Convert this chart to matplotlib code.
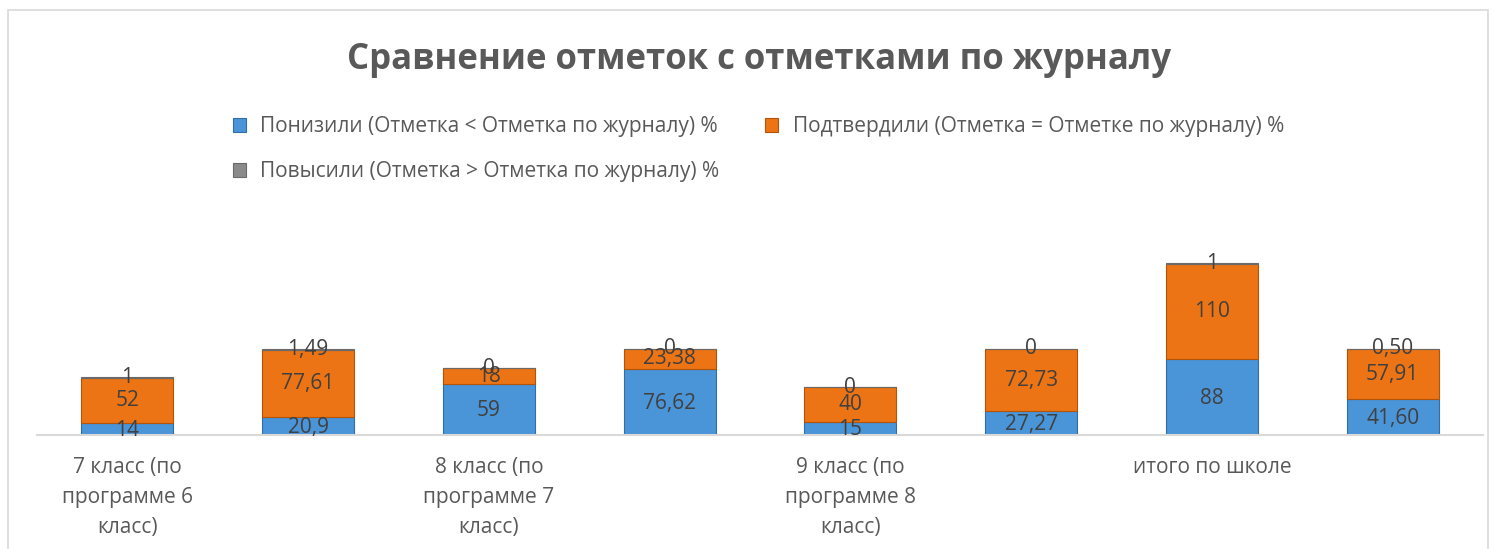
import numpy as np
import matplotlib.pyplot as plt
from matplotlib.patches import Rectangle

plt.rcParams['font.family'] = ['Open Sans', 'DejaVu Sans']

# данные
categories = ['7 класс (по\nпрограмме 6\nкласс)', '', '8 класс (по\nпрограмме 7\nкласс)', '',
              '9 класс (по\nпрограмме 8\nкласс)', '', 'итого по школе', '']
ponizili = [14, 20.9, 59, 76.62, 15, 27.27, 88, 41.60]
podtverdili = [52, 77.61, 18, 23.38, 40, 72.73, 110, 57.91]
povysili = [1, 1.49, 0, 0, 0, 0, 1, 0.50]
lbl_pon = ['14', '20,9', '59', '76,62', '15', '27,27', '88', '41,60']
lbl_pod = ['52', '77,61', '18', '23,38', '40', '72,73', '110', '57,91']
lbl_pov = ['1', '1,49', '0', '0', '0', '0', '1', '0,50']
series_names = ['Понизили (Отметка < Отметка по журналу) %',
                'Подтвердили (Отметка = Отметке по журналу) %',
                'Повысили (Отметка > Отметка по журналу) %']

blue = '#4a94d8'
orange = '#ec7414'
grey = '#8a8a8a'
txt = '#595959'

fig = plt.figure(figsize=(14.95, 5.49), dpi=100)
fig.patches.append(Rectangle((8 / 1495, -0.1), 1480 / 1495, 1 - 10 / 549 + 0.1,
                             transform=fig.transFigure, fill=False,
                             edgecolor='#d9d9d9', lw=1.2))

ax = fig.add_axes([37 / 1495, 1 - 435 / 549, 1446 / 1495, 216 / 549])
x = np.arange(len(ponizili))
w = 0.51
pon = np.array(ponizili)
pod = np.array(podtverdili)
pov = np.array(povysili)

b1 = ax.bar(x, pon, w, color=blue, edgecolor='#2f6ea8', lw=0.8, label=series_names[0])
b2 = ax.bar(x, pod, w, bottom=pon, color=orange, edgecolor='#b35409', lw=0.8, label=series_names[1])
b3 = ax.bar(x, pov, w, bottom=pon + pod, color=grey, edgecolor='#6a6a6a', lw=0.8, label=series_names[2])

for i in x:
    ax.text(i, pon[i] / 2 - 1.5, lbl_pon[i], ha='center', va='center', fontsize=15, color='#404040')
    ax.text(i, pon[i] + pod[i] / 2, lbl_pod[i], ha='center', va='center', fontsize=15, color='#404040')
    ax.text(i, pon[i] + pod[i] + pov[i] / 2, lbl_pov[i], ha='center', va='center', fontsize=15, color='#404040')

ax.set_xlim(-0.5, 7.5)
ax.set_ylim(0, 250)
ax.set_yticks([])
ax.set_xticks(x)
ax.set_xticklabels(categories, fontsize=15, color=txt, linespacing=1.55)
ax.tick_params(axis='x', length=0, pad=16)
for s in ['top', 'right', 'left']:
    ax.spines[s].set_visible(False)
ax.spines['bottom'].set_color('#d9d9d9')
ax.spines['bottom'].set_linewidth(1.5)

fig.text(0.508, 1 - 60 / 549, 'Сравнение отметок с отметками по журналу', ha='center', va='center',
         fontsize=25, fontweight='bold', color=txt)

# порядок как в Excel: по строкам
fig.legend(handles=[b1, b3, b2], loc='upper left', bbox_to_anchor=(223 / 1495, 1 - 106 / 549),
           ncol=2, frameon=False, fontsize=15, labelcolor=txt, handlelength=0.6, handleheight=0.6,
           columnspacing=2.2, handletextpad=0.7, labelspacing=1.15, borderpad=0)

fig.savefig('out.png', dpi=100)
